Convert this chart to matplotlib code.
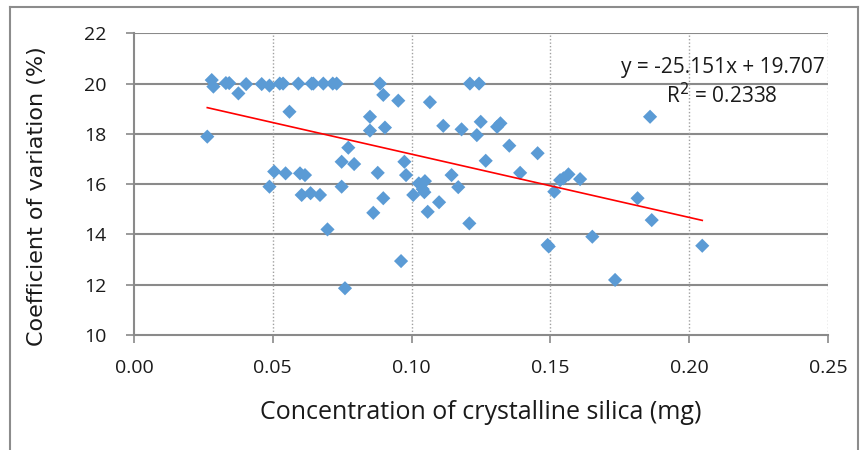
import numpy as np
import matplotlib
matplotlib.use("Agg")
import matplotlib.pyplot as plt
from matplotlib.lines import Line2D

# concentration of crystalline silica (mg) and coefficient of variation (%)
silica_mg = [0.0280, 0.0286, 0.0331, 0.0343, 0.0404, 0.0460, 0.0488, 0.0525, 0.0537,
             0.0592, 0.0640, 0.0646, 0.0682, 0.0716, 0.0730, 0.0886, 0.1210, 0.1243,
             0.0376, 0.0264, 0.0560, 0.0898, 0.0952, 0.1066, 0.0850, 0.0850, 0.0904,
             0.1114, 0.1180, 0.1235, 0.1249, 0.1308, 0.1320, 0.1859,
             0.0772, 0.1352, 0.1454, 0.1267, 0.0748, 0.0793, 0.0974, 0.0980, 0.0505,
             0.0546, 0.0598, 0.0616, 0.0878, 0.1144, 0.1391, 0.1535, 0.1547, 0.1565,
             0.1607,
             0.0488, 0.0748, 0.1026, 0.1048, 0.1040, 0.1046, 0.1168, 0.1514, 0.0604,
             0.0636, 0.0670, 0.1006, 0.0898, 0.1099, 0.1814, 0.1058, 0.0862, 0.1865,
             0.1208, 0.0697, 0.1651, 0.1490, 0.1494, 0.2047, 0.0962, 0.1733, 0.0760]
cv_pct = [20.14, 19.88, 20.02, 20.02, 19.98, 19.98, 19.92, 20.0, 20.0,
          20.0, 20.0, 20.0, 20.0, 20.0, 20.0, 20.0, 20.0, 20.0,
          19.61, 17.89, 18.88, 19.55, 19.32, 19.26, 18.68, 18.13, 18.25,
          18.32, 18.18, 17.95, 18.48, 18.28, 18.42, 18.68,
          17.45, 17.53, 17.23, 16.93, 16.89, 16.80, 16.89, 16.36, 16.50,
          16.43, 16.43, 16.36, 16.45, 16.36, 16.45, 16.16, 16.23, 16.39,
          16.20,
          15.90, 15.90, 16.03, 16.12, 15.80, 15.68, 15.88, 15.70, 15.57,
          15.64, 15.57, 15.57, 15.44, 15.28, 15.44, 14.90, 14.86, 14.57,
          14.44, 14.20, 13.91, 13.58, 13.52, 13.55, 12.94, 12.19, 11.86]

slope = -25.151
intercept = 19.707
r_squared = 0.2338

x_ticks = [0.00, 0.05, 0.10, 0.15, 0.20, 0.25]
y_ticks = [10, 12, 14, 16, 18, 20, 22]

W, H = 866, 450
fig = plt.figure(figsize=(W / 100, H / 100), dpi=100)
fig.patch.set_facecolor("white")

# chart area border (Excel style)
for xs, ys in [([10, 10], [450, 7]), ([10, 858], [7, 7]), ([858, 858], [7, 450])]:
    fig.add_artist(Line2D([x / W for x in xs], [1 - y / H for y in ys],
                          color="#8c8c8c", lw=1.5))

ax = fig.add_axes([134 / W, 1 - 335 / H, (828 - 134) / W, (335 - 33.3) / H])

ax.scatter(silica_mg, cv_pct, marker="D", s=52, color="#5B9BD5",
           edgecolors="none", zorder=3)

xfit = np.array([min(silica_mg), max(silica_mg)])
ax.plot(xfit, slope * xfit + intercept, color="#FF0000", lw=1.2, zorder=4)

ax.set_xlim(0, 0.25)
ax.set_ylim(10, 22)
ax.set_xticks(x_ticks)
ax.set_yticks(y_ticks)
ax.set_xticklabels([f"{t:.2f}" for t in x_ticks])
ax.set_yticklabels([str(t) for t in y_ticks])

for y in y_ticks[1:]:
    ax.axhline(y, color="#8a8a8a", lw=1.5, zorder=1)
for x in x_ticks[1:]:
    ax.axvline(x, color="#a0a0a0", lw=1.0, ls=(0, (1, 1.5)), zorder=1)

for side in ["top", "right"]:
    ax.spines[side].set_visible(False)
for side in ["left", "bottom"]:
    ax.spines[side].set_color("#8a8a8a")
    ax.spines[side].set_linewidth(1.5)

tick_font = "Open Sans"
ax.tick_params(axis="both", direction="out", length=6, width=1.2,
               color="#8a8a8a", labelcolor="#1a1a1a", labelsize=14)
ax.tick_params(axis="y", pad=14)
ax.tick_params(axis="x", pad=11)
for lab in ax.get_xticklabels() + ax.get_yticklabels():
    lab.set_fontfamily(tick_font)

ax.set_xlabel("Concentration of crystalline silica (mg)", fontsize=18,
              fontfamily="Open Sans", color="#1a1a1a")
ax.xaxis.set_label_coords(0.5, -0.215)
ax.set_ylabel("Coefficient of variation (%)", fontsize=16,
              fontfamily="DejaVu Sans", color="#1a1a1a")
ax.yaxis.set_label_coords(-0.126, 0.459)

ax.text(0.996, 0.888, f"y = {slope}x + {intercept}", transform=ax.transAxes,
        ha="right", va="center", fontsize=15, fontfamily="Open Sans", color="#1a1a1a")
ax.text(0.928, 0.792, f"R$^2$ = {r_squared}", transform=ax.transAxes,
        ha="right", va="center", fontsize=15, fontfamily="Open Sans", color="#1a1a1a")

fig.savefig("out.png", dpi=100, facecolor="white")
